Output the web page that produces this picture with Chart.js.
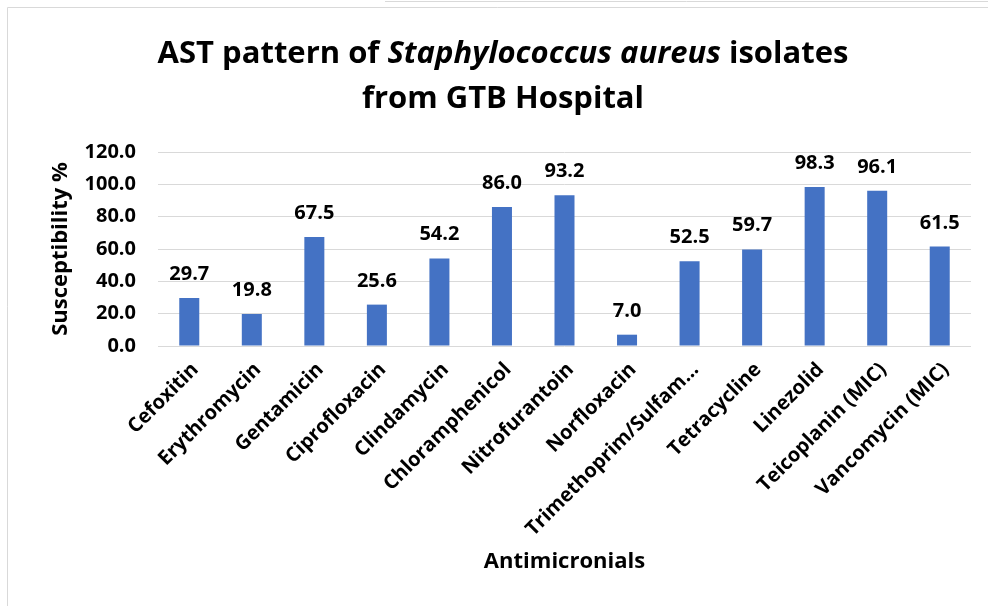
<!DOCTYPE html>
<html>
<head>
<meta charset="utf-8">
<script src="https://cdn.jsdelivr.net/npm/chart.js@4.4.1/dist/chart.umd.min.js"></script>
<style>
html,body{margin:0;padding:0;background:#fff;}
#wrap{position:relative;width:988px;height:606px;}
</style>
</head>
<body>
<div id="wrap"><canvas id="c" width="988" height="606"></canvas></div>
<script>
const categories = ["Cefoxitin","Erythromycin","Gentamicin","Ciprofloxacin","Clindamycin","Chloramphenicol","Nitrofurantoin","Norfloxacin","Trimethoprim/Sulfam...","Tetracycline","Linezolid","Teicoplanin (MIC)","Vancomycin (MIC)"];
const susceptibility = [29.7,19.8,67.5,25.6,54.2,86.0,93.2,7.0,52.5,59.7,98.3,96.1,61.5];
const yTickValues = [0,20,40,60,80,100,120];
const titleParts = [["AST pattern of ", false],["Staphylococcus aureus", true],[" isolates", false]];
const titleLine2 = "from GTB Hospital";
const yAxisTitle = "Susceptibility %";
const xAxisTitle = "Antimicronials";

const FONT = "'Open Sans', Lato, sans-serif";

const framePlugin = {
  id: 'frame',
  beforeDraw(chart){
    const ctx = chart.ctx;
    ctx.save();
    ctx.strokeStyle = '#d9d9d9';
    ctx.lineWidth = 1;
    ctx.beginPath();
    ctx.moveTo(7.5, 606); ctx.lineTo(7.5, 7.5); ctx.lineTo(988, 7.5);
    ctx.moveTo(385, 1.5); ctx.lineTo(988, 1.5);
    ctx.stroke();
    ctx.restore();
  }
};

const titlePlugin = {
  id: 'mixedTitle',
  afterDraw(chart){
    const ctx = chart.ctx;
    ctx.save();
    ctx.fillStyle = '#000';
    ctx.textBaseline = 'alphabetic';
    ctx.textAlign = 'left';
    const size = 31;
    const f = it => (it ? 'italic ' : '') + 'bold ' + size + 'px ' + FONT;
    let total = 0;
    titleParts.forEach(([t, it]) => { ctx.font = f(it); total += ctx.measureText(t).width; });
    const cx = 503;
    let x = cx - total / 2;
    titleParts.forEach(([t, it]) => { ctx.font = f(it); ctx.fillText(t, x, 63); x += ctx.measureText(t).width; });
    ctx.font = f(false);
    ctx.textAlign = 'center';
    ctx.fillText(titleLine2, cx, 108);
    ctx.restore();
  }
};

const labelPlugin = {
  id: 'barLabels',
  afterDatasetsDraw(chart){
    const ctx = chart.ctx;
    const meta = chart.getDatasetMeta(0);
    ctx.save();
    ctx.fillStyle = '#000';
    ctx.font = 'bold 20px ' + FONT;
    ctx.textAlign = 'center';
    ctx.textBaseline = 'alphabetic';
    meta.data.forEach((bar, i) => {
      ctx.fillText(susceptibility[i].toFixed(1), bar.x, bar.y - 18);
    });
    ctx.restore();
  }
};

new Chart(document.getElementById('c'), {
  type: 'bar',
  data: {
    labels: categories,
    datasets: [{
      data: susceptibility,
      backgroundColor: '#4472C4',
      borderWidth: 0,
      barPercentage: 0.5,
      categoryPercentage: 0.64
    }]
  },
  options: {
    responsive: false,
    animation: false,
    events: [],
    layout: { padding: { top: 152, right: 17, left: 0, bottom: 0 } },
    plugins: { legend: { display: false }, title: { display: false }, tooltip: { enabled: false } },
    scales: {
      x: {
        grid: { display: false, drawTicks: false },
        border: { display: false },
        ticks: {
          color: '#000',
          font: { family: FONT, size: 20, weight: 'bold' },
          minRotation: 45, maxRotation: 45, padding: 12, labelOffset: 6, autoSkip: false
        },
        title: {
          display: true, text: xAxisTitle, color: '#000',
          font: { family: FONT, size: 22, weight: 'bold' },
          padding: { top: 0, bottom: 31 }
        },
        afterFit(s){ s.height = 260; }
      },
      y: {
        min: 0, max: 120,
        afterBuildTicks(s){ s.ticks = yTickValues.map(v => ({ value: v })); },
        grid: { color: '#d9d9d9', lineWidth: 1, drawTicks: false },
        border: { display: false },
        ticks: {
          color: '#000',
          font: { family: FONT, size: 20, weight: 'bold' },
          padding: 22,
          callback: v => Number(v).toFixed(1)
        },
        title: {
          display: true, text: yAxisTitle, color: '#000',
          font: { family: FONT, size: 22, weight: 'bold' },
          padding: { top: 48, bottom: 0 }
        },
        afterFit(s){ s.width = 158; }
      }
    }
  },
  plugins: [framePlugin, titlePlugin, labelPlugin]
});
</script>
</body>
</html>
